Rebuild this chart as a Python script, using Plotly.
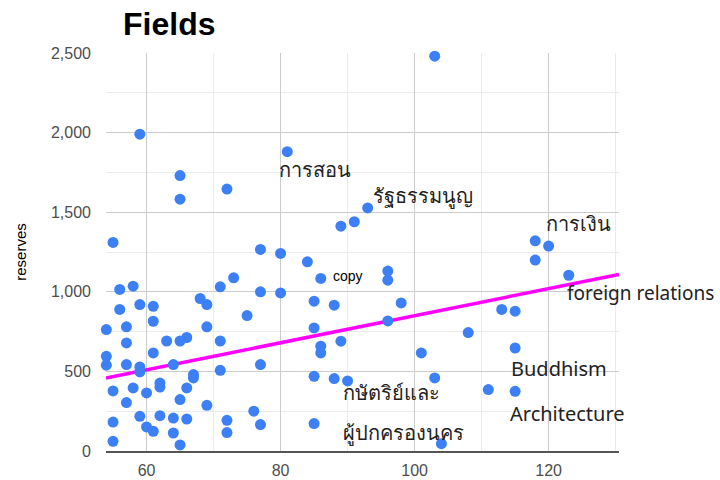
import numpy as np
import plotly.graph_objects as go

# Data
x_vals = [55, 59, 65, 65, 72, 81, 89, 91, 103, 93, 118, 120, 118, 123, 96, 96, 98, 96,
          113, 115, 108, 101, 115, 103, 111, 115, 104, 54, 56, 58, 56, 57, 57, 54, 54, 57,
          59, 61, 61, 61, 59, 59, 55, 58, 60, 57, 55, 59, 60, 61, 55, 63, 62, 62, 62, 64,
          65, 66, 64, 64, 65, 65, 66, 66, 67, 67, 68, 69, 69, 69, 71, 73, 71, 71, 72, 72,
          75, 77, 77, 77, 76, 77, 80, 80, 84, 86, 85, 88, 85, 86, 86, 89, 85, 88, 90, 85]
y_vals = [1310, 1990, 1730, 1582, 1645, 1880, 1412, 1440, 2480, 1527, 1320, 1287, 1199, 1104,
          1130, 1073, 930, 817, 889, 878, 744, 616, 647, 459, 386, 375, 46, 763, 1015, 1035,
          889, 780, 679, 595, 539, 543, 920, 909, 815, 616, 528, 497, 377, 396, 365, 304, 182,
          218, 151, 124, 61, 691, 427, 402, 222, 543, 691, 713, 207, 113, 38, 323, 396, 201,
          480, 459, 958, 920, 780, 287, 1031, 1088, 691, 507, 193, 116, 851, 1266, 1000, 543,
          250, 166, 1241, 993, 1188, 1084, 941, 916, 773, 658, 616, 690, 469, 455, 440, 172]

# Labels: (index of labelled point, text)
label_points = [5, 9, 10, 85, 13, 22, 25, 94, 94]
label_texts = ["การสอน", "รัฐธรรมนูญ", "การเงิน", "copy", "foreign relations",
               "Buddhism", "Architecture", "กษัตริย์และ", "ผู้ปกครองนคร"]
# pixel offsets of each label's left edge / middle relative to its point
label_shift_x = [-10, 3, 9, 10, -4, -6, -7, -7, -7]
label_shift_y = [-18, 12, 17, 2, -18, -20, -22, -12, -52]
label_sizes = [20, 20, 20, 14, 19, 20, 20, 20, 20]

# Linear trendline coefficients (y = slope * x + intercept)
trend_slope = 8.5
trend_intercept = 0.0

title_text = "Fields"
y_title = "reserves"
x_ticks = [60, 80, 100, 120]
y_ticks = [0, 500, 1000, 1500, 2000, 2500]

x_range = [53.95, 130.5]
y_range = [0, 2500]

tx = np.array(x_range)
ty = trend_slope * tx + trend_intercept

fig = go.Figure()
fig.add_trace(go.Scatter(x=tx, y=ty, mode="lines",
                         line=dict(color="#ff00ff", width=3.5),
                         hoverinfo="skip", showlegend=False, cliponaxis=True))
fig.add_trace(go.Scatter(x=x_vals, y=y_vals, mode="markers",
                         marker=dict(color="#3d80f6", size=11, line=dict(width=0)),
                         showlegend=False, cliponaxis=False))

for i, idx in enumerate(label_points):
    fig.add_annotation(x=x_vals[idx], y=y_vals[idx], text=label_texts[i],
                       showarrow=False, xanchor="left", yanchor="middle",
                       xshift=label_shift_x[i], yshift=label_shift_y[i],
                       font=dict(family="Noto Sans, Arial, sans-serif" if label_texts[i] != "copy"
                                 else "Arial, Liberation Sans, sans-serif",
                                 size=label_sizes[i],
                                 color="#222222" if label_texts[i] != "copy" else "#000000"))

fig.update_layout(
    width=720, height=480,
    margin=dict(l=106, r=101, t=53, b=29, autoexpand=False),
    paper_bgcolor="white", plot_bgcolor="white",
    title=dict(text="<b>" + title_text + "</b>", x=123 / 720, xanchor="left",
               xref="container", y=1 - 24 / 480, yref="container", yanchor="middle",
               font=dict(family="Arial, Liberation Sans, sans-serif", size=32, color="#000")),
    font=dict(family="Arial, Liberation Sans, sans-serif"),
    showlegend=False,
)
fig.update_xaxes(range=x_range, tickvals=x_ticks, showgrid=True, gridcolor="#cccccc",
                 gridwidth=1, zeroline=False, showline=True, linecolor="#555555",
                 linewidth=2, ticks="", automargin=False, ticklabelstandoff=4,
                 tickfont=dict(size=16, color="#4d4d4d"),
                 minor=dict(dtick=10, tick0=0, showgrid=True, gridcolor="#ebebeb", gridwidth=1))
fig.update_yaxes(range=y_range, tickvals=y_ticks, tickformat=",", showgrid=True,
                 gridcolor="#cccccc", gridwidth=1, zeroline=False, showline=False,
                 ticks="", automargin=False, ticklabelstandoff=14,
                 tickfont=dict(size=16, color="#4d4d4d"),
                 title=dict(text=y_title, font=dict(size=15, color="#000"), standoff=20),
                 minor=dict(dtick=250, tick0=0, showgrid=True, gridcolor="#ebebeb", gridwidth=1))

fig.write_html("out.html", config={"displayModeBar": False},
               post_script="document.body.style.margin='0';")
